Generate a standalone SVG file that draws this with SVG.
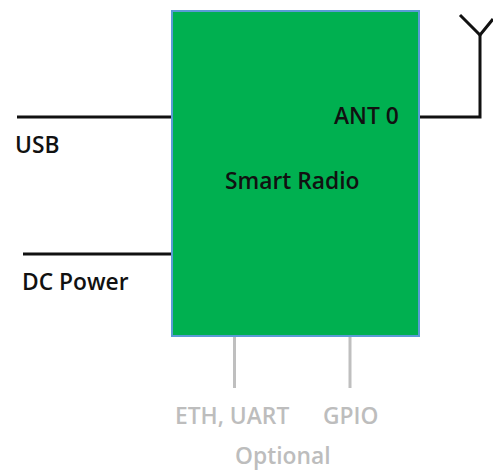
<svg xmlns="http://www.w3.org/2000/svg" width="493" height="470" viewBox="0 0 493 470">
<style>
text{font-family:"Open Sans","Noto Sans","DejaVu Sans",sans-serif;font-size:22.800px;font-weight:600}
.k{fill:#111}
.g{fill:#bdbdbd}
.b{fill:none;stroke:#111;stroke-width:3}
.o{fill:none;stroke:#bfbfbf;stroke-width:3}
</style>
<rect width="493" height="470" fill="#fff"/>
<g id="connectors">
<path class="b" d="M17 117H172"/>
<path class="b" d="M23 254H172"/>
<path class="b" d="M419 117H480V35"/>
<path class="b" d="M460 15L480 35L493 19"/>
<path class="o" d="M234.500 337V388"/>
<path class="o" d="M350 337V388"/>
</g>
<g id="smart-radio">
<rect x="172" y="11" width="247" height="325" fill="#00b050" stroke="#5b9bd5" stroke-width="2"/>
<text class="k" x="225" y="189">Smart Radio</text>
<text class="k" x="334" y="124">ANT 0</text>
</g>
<g id="usb"><text class="k" x="15" y="153">USB</text></g>
<g id="dc-power"><text class="k" x="22" y="290">DC Power</text></g>
<g id="eth-uart"><text class="g" x="175" y="424">ETH, UART</text></g>
<g id="gpio"><text class="g" x="323" y="424">GPIO</text></g>
<g id="optional"><text class="g" x="235" y="463.500">Optional</text></g>
</svg>
